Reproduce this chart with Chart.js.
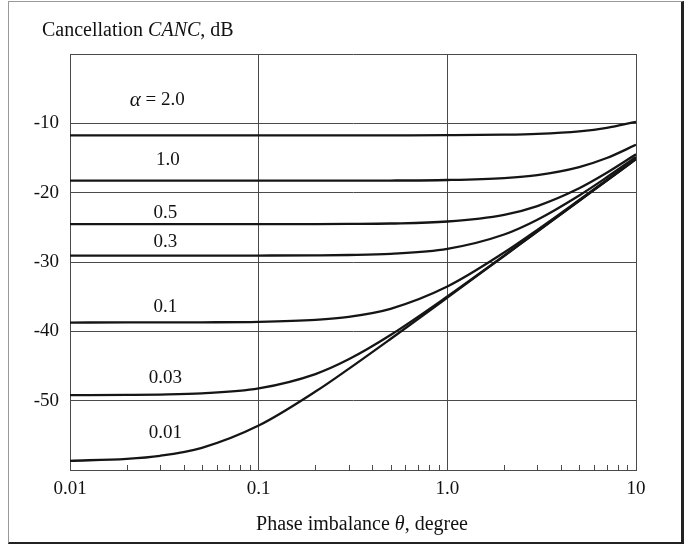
<!DOCTYPE html>
<html>
<head>
<meta charset="utf-8">
<script src="https://cdn.jsdelivr.net/npm/chart.js@4.4.1/dist/chart.umd.min.js"></script>
<style>
  body { margin: 0; background: #fff; }
  #wrap { position: relative; width: 695px; height: 546px; font-family: "Liberation Serif", "Times New Roman", serif; color: #111; }
  #frame { position: absolute; left: 8px; top: 1px; width: 672px; height: 540px;
           border-left: 1px solid #999; border-top: 1px solid #999;
           border-right: 3px solid #222; border-bottom: 2px solid #222; }
  canvas { position: absolute; left: 0; top: 0; }
  .lbl { position: absolute; font-size: 20px; white-space: nowrap; }
  #ytitle { left: 42px; top: 18px; }
  #xtitle { left: 362px; top: 512px; transform: translateX(-50%); }
</style>
</head>
<body>
<div id="wrap">
  <div id="frame"></div>
  <canvas id="chart" width="695" height="546"></canvas>
  <div class="lbl" id="ytitle">Cancellation <i>CANC</i>, dB</div>
  <div class="lbl" id="xtitle">Phase imbalance <i>&theta;</i>, degree</div>
</div>
<script>
// phase imbalance, degrees (log axis)
var thetaDeg = [0.01, 0.02, 0.03, 0.05, 0.1, 0.2, 0.3, 0.5, 1, 2, 3, 5, 7, 10];

// cancellation, dB, one curve per amplitude imbalance alpha
var cancA2_0  = [-11.74, -11.74, -11.74, -11.74, -11.74, -11.74, -11.74, -11.73, -11.71, -11.64, -11.52, -11.16, -10.66, -9.78];
var cancA1_0  = [-18.27, -18.27, -18.27, -18.27, -18.27, -18.27, -18.26, -18.25, -18.17, -17.89, -17.46, -16.30, -15.00, -13.10];
var cancA0_5  = [-24.55, -24.55, -24.55, -24.55, -24.54, -24.53, -24.51, -24.45, -24.16, -23.19, -21.93, -19.37, -17.14, -14.47];
var cancA0_3  = [-29.08, -29.08, -29.08, -29.08, -29.07, -29.04, -28.99, -28.82, -28.10, -26.03, -23.90, -20.40, -17.78, -14.86];
var cancA0_1  = [-38.73, -38.72, -38.72, -38.70, -38.63, -38.34, -37.91, -36.75, -33.54, -28.64, -25.37, -21.06, -18.18, -15.10];
var cancA0_03 = [-49.21, -49.17, -49.12, -48.95, -48.23, -46.16, -44.04, -40.54, -34.98, -29.09, -25.59, -21.16, -18.25, -15.16];
var cancA0_01 = [-58.67, -58.39, -57.95, -56.80, -53.59, -48.69, -45.41, -41.10, -35.14, -29.13, -25.61, -21.18, -18.26, -15.17];

// curve labels and where they sit (data coords)
var alphaLabels = ['2.0', '1.0', '0.5', '0.3', '0.1', '0.03', '0.01'];
var labelTheta  = [0.029, 0.033, 0.032, 0.032, 0.032, 0.032, 0.032];
var labelCanc   = [-6.7, -15.3, -22.9, -27.1, -36.5, -46.7, -54.6];

// axis ticks
var xTickValues = [0.01, 0.1, 1, 10];
var xTickLabels = ['0.01', '0.1', '1.0', '10'];
var xMinorValues = [0.02, 0.03, 0.04, 0.05, 0.06, 0.07, 0.08, 0.09,
                    0.2, 0.3, 0.4, 0.5, 0.6, 0.7, 0.8, 0.9,
                    2, 3, 4, 5, 6, 7, 8, 9];
var yTickValues = [-10, -20, -30, -40, -50];
var yTickLabels = ['-10', '-20', '-30', '-40', '-50'];

var allSeries = [cancA2_0, cancA1_0, cancA0_5, cancA0_3, cancA0_1, cancA0_03, cancA0_01];
var SERIF = '"Liberation Serif", "Times New Roman", serif';
var GRID = '#4a4a4a';

function toPoints(ys) {
  return ys.map(function (y, i) { return { x: thetaDeg[i], y: y }; });
}

var datasets = allSeries.map(function (ys, i) {
  return {
    label: alphaLabels[i],
    data: toPoints(ys),
    borderColor: '#151515',
    borderWidth: 2.3,
    pointRadius: 0,
    fill: false,
    cubicInterpolationMode: 'monotone'
  };
});

var extras = {
  id: 'extras',
  afterDatasetsDraw: function (chart) {
    var ctx = chart.ctx, xs = chart.scales.x, ys = chart.scales.y;
    var bottom = chart.chartArea.bottom;
    ctx.save();
    // minor ticks pointing inward from the bottom axis
    ctx.strokeStyle = GRID;
    ctx.lineWidth = 1;
    xMinorValues.forEach(function (v) {
      var px = Math.round(xs.getPixelForValue(v)) + 0.5;
      ctx.beginPath();
      ctx.moveTo(px, bottom);
      ctx.lineTo(px, bottom - 5);
      ctx.stroke();
    });
    // curve labels
    ctx.fillStyle = '#111';
    ctx.textBaseline = 'middle';
    ctx.textAlign = 'left';
    alphaLabels.forEach(function (t, i) {
      var cx = xs.getPixelForValue(labelTheta[i]);
      var cy = ys.getPixelForValue(labelCanc[i]);
      if (i === 0) {
        ctx.font = 'italic 21px ' + SERIF;
        var a = '\u03B1';
        var wa = ctx.measureText(a).width;
        ctx.font = '19px ' + SERIF;
        var rest = ' = ' + t;
        var wr = ctx.measureText(rest).width;
        var x0 = cx - (wa + wr) / 2;
        ctx.font = 'italic 21px ' + SERIF;
        ctx.fillText(a, x0, cy);
        ctx.font = '19px ' + SERIF;
        ctx.fillText(rest, x0 + wa, cy);
      } else {
        ctx.font = '19px ' + SERIF;
        ctx.textAlign = 'center';
        ctx.fillText(t, cx, cy);
        ctx.textAlign = 'left';
      }
    });
    ctx.restore();
  }
};

new Chart(document.getElementById('chart'), {
  type: 'line',
  data: { datasets: datasets },
  plugins: [extras],
  options: {
    responsive: false,
    animation: false,
    layout: { padding: { top: 54, right: 59, bottom: 0, left: 0 } },
    plugins: { legend: { display: false }, tooltip: { enabled: false } },
    scales: {
      x: {
        type: 'logarithmic',
        min: 0.01,
        max: 10,
        afterFit: function (s) { s.height = 76; },
        afterBuildTicks: function (s) {
          s.ticks = xTickValues.map(function (v) { return { value: v }; });
        },
        ticks: {
          autoSkip: false,
          maxRotation: 0,
          padding: 8,
          color: '#111',
          font: { family: SERIF, size: 19 },
          callback: function (v) {
            var i = xTickValues.indexOf(v);
            return i >= 0 ? xTickLabels[i] : '';
          }
        },
        grid: { color: GRID, lineWidth: 1, drawTicks: false },
        border: { display: true, color: GRID, width: 1 }
      },
      y: {
        type: 'linear',
        min: -60,
        max: 0,
        afterFit: function (s) { s.width = 70; },
        afterBuildTicks: function (s) {
          s.ticks = [0].concat(yTickValues, [-60]).map(function (v) { return { value: v }; });
        },
        ticks: {
          padding: 11,
          color: '#111',
          font: { family: SERIF, size: 19 },
          callback: function (v) {
            var i = yTickValues.indexOf(v);
            return i >= 0 ? yTickLabels[i] : '';
          }
        },
        grid: { color: GRID, lineWidth: 1, drawTicks: false },
        border: { display: true, color: GRID, width: 1 }
      }
    }
  }
});
</script>
</body>
</html>
